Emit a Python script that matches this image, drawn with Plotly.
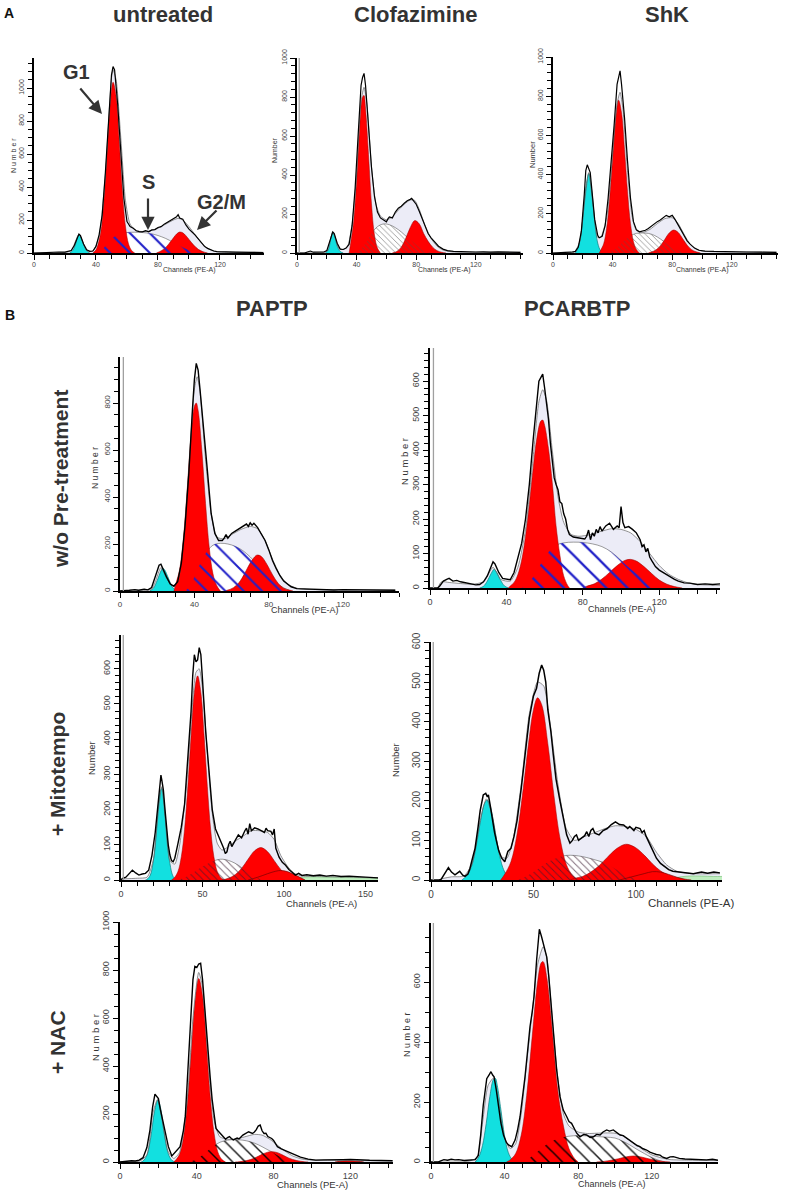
import plotly.graph_objects as go

W, H = 786, 1193
FONT = "Liberation Sans, Arial, sans-serif"

# ---------------- data: (channel, count) ----------------
# A: untreated
UNT_CYAN = [(23,0),(25,15),(27,60),(28,95),(29,112),(30,100),(31,75),(33,30),(35,5),(36,0)]
UNT_G1 = [(38,0),(40,19),(43,121),(45,301),(47,583),(49,882),(51,1035),(53,950),(55,676),(57,378),(59,163),(61,55),(63,15),(65,0)]
UNT_S = [(42,0),(45,30),(48,65),(52,100),(56,118),(60,124),(65,126),(70,124),(75,118),(80,106),(85,88),(90,64),(95,40),(100,18),(104,5),(107,0)]
UNT_G2 = [(79,0),(81,8),(84,25),(87,55),(90,92),(92,115),(94,127),(96,122),(98,105),(100,82),(103,48),(106,22),(109,8),(112,0)]
UNT_DATA = [(0,0),(4,2),(8,5),(12,4),(16,6),(20,5),(22,8),(24,15),(26,45),(28,100),(29,115),(30,105),(32,55),(34,20),(36,10),(38,12),(40,40),(42,110),(44,230),(46,480),(48,800),(50,1080),(51,1130),(52,1110),(54,900),(56,600),(58,330),(60,190),(62,160),(64,150),(66,135),(68,130),(70,128),(72,135),(74,128),(76,140),(78,142),(80,155),(82,160),(84,175),(86,185),(88,200),(90,210),(92,220),(93,232),(94,212),(96,205),(98,170),(100,145),(102,128),(104,108),(106,85),(108,62),(110,40),(112,28),(114,18),(116,12),(118,8),(122,6),(130,5),(140,4),(148,3)]
UNT_FIT = [(0,0),(20,3),(24,15),(28,100),(29,112),(30,100),(34,15),(38,12),(42,100),(46,470),(50,1060),(51,1110),(53,1050),(56,700),(59,320),(62,175),(66,135),(70,130),(75,135),(80,150),(85,175),(90,200),(93,210),(96,200),(100,160),(104,110),(108,62),(112,28),(116,12),(120,6),(148,4)]

# A: Clofazimine
CLO_CYAN = [(19,0),(21,15),(22,45),(23,85),(24,108),(25,95),(26,65),(27,35),(29,8),(31,0)]
CLO_G1 = [(35,0),(36,50),(38,159),(40,370),(42,637),(44,800),(45,808),(46,743),(48,505),(50,252),(52,92),(54,25),(56,0)]
CLO_S = [(38,0),(42,15),(46,50),(50,100),(54,135),(58,149),(62,145),(66,130),(70,108),(74,80),(78,55),(82,30),(86,12),(90,0)]
CLO_G2 = [(64,0),(67,8),(70,30),(73,75),(76,130),(79,166),(82,150),(85,100),(88,60),(91,30),(94,12),(97,4),(100,0)]
CLO_DATA = [(0,0),(5,0),(7,5),(9,10),(11,4),(14,3),(18,5),(20,12),(22,60),(24,108),(25,100),(27,50),(29,20),(31,18),(33,25),(35,45),(37,140),(39,330),(41,600),(43,860),(44,900),(45,921),(46,860),(48,650),(50,440),(52,290),(54,210),(56,180),(58,170),(60,160),(61,175),(62,185),(64,180),(66,210),(68,230),(70,240),(72,255),(74,268),(76,275),(77,280),(78,270),(80,250),(82,215),(84,175),(86,130),(88,100),(90,78),(92,60),(95,35),(98,20),(101,12),(105,8),(110,6),(115,7),(120,5),(125,6),(130,4),(135,6),(140,4),(145,5),(150,3)]
CLO_FIT = [(0,0),(18,3),(20,10),(22,55),(24,105),(26,70),(28,25),(31,18),(34,35),(37,150),(40,400),(43,780),(45,850),(47,760),(50,440),(53,250),(56,190),(60,170),(64,185),(68,220),(72,250),(76,272),(79,270),(82,225),(86,140),(90,75),(94,35),(98,15),(104,6),(150,4)]

# A: ShK
SHK_CYAN = [(15,0),(16,13),(18,59),(20,174),(22,331),(24,405),(26,318),(28,160),(30,51),(32,11),(34,0)]
SHK_G1 = [(31,0),(32,14),(34,47),(36,127),(38,276),(40,483),(42,685),(44,780),(46,715),(48,528),(50,315),(52,151),(54,58),(56,18),(58,0)]
SHK_S = [(36,0),(40,12),(44,35),(48,65),(52,88),(56,100),(60,102),(64,100),(68,90),(72,72),(76,50),(80,30),(84,14),(88,4),(91,0)]
SHK_G2 = [(64,0),(66,5),(69,15),(72,36),(75,69),(78,102),(81,117),(84,105),(87,73),(90,40),(93,17),(96,6),(99,0)]
SHK_DATA = [(0,0),(6,0),(8,3),(12,4),(15,8),(17,30),(19,110),(21,300),(22,420),(23,450),(24,430),(25,410),(26,330),(28,170),(30,90),(31,78),(33,85),(35,140),(37,280),(39,450),(41,650),(43,860),(44,895),(45,929),(46,860),(48,690),(50,470),(52,280),(54,160),(56,118),(58,108),(60,112),(62,116),(64,125),(66,138),(68,150),(70,160),(72,168),(74,178),(76,192),(78,185),(80,192),(82,170),(84,142),(86,112),(88,85),(90,62),(92,45),(95,25),(98,14),(102,10),(108,8),(115,6),(122,5),(130,5),(140,4),(150,3)]
SHK_FIT = [(0,0),(14,3),(18,60),(21,250),(24,410),(27,230),(30,80),(32,80),(36,180),(40,500),(43,760),(45,820),(47,730),(50,420),(53,190),(56,115),(60,105),(65,120),(70,150),(75,175),(80,180),(84,150),(88,95),(92,45),(96,20),(100,10),(110,6),(150,4)]

# B: PAPTP, w/o pre-treatment
PAP_CYAN = [(16,0),(18,12),(20,45),(22,85),(23,97),(24,90),(26,55),(28,18),(30,3),(31,0)]
PAP_G1 = [(29,0),(30,30),(32,89),(34,216),(36,417),(38,641),(40,786),(41,800),(42,769),(44,599),(46,373),(48,184),(50,73),(52,23),(54,0)]
PAP_S = [(35,0),(38,25),(41,80),(44,130),(47,170),(50,195),(54,203),(58,200),(62,190),(66,172),(70,145),(74,112),(78,80),(82,48),(86,22),(90,6),(92,0)]
PAP_G2 = [(56,0),(58,4),(61,14),(64,36),(67,74),(70,119),(73,150),(74,153),(76,147),(79,113),(82,69),(85,33),(88,12),(91,4),(93,0)]
PAP_DATA = [(0,0),(3,0),(5,3),(8,6),(10,3),(13,8),(15,5),(17,15),(19,60),(21,110),(22,114),(23,95),(25,60),(27,30),(29,20),(31,40),(33,120),(35,280),(37,500),(39,780),(40,900),(41,969),(42,940),(43,860),(45,700),(47,510),(49,330),(51,245),(53,215),(55,215),(56,225),(57,240),(58,225),(60,245),(62,255),(64,265),(66,275),(68,285),(69,275),(70,290),(71,280),(72,288),(74,270),(76,245),(78,215),(80,175),(82,130),(84,95),(86,65),(88,42),(90,28),(92,18),(95,10),(100,8),(105,5),(110,6),(115,4),(120,6),(125,5),(130,4),(135,5),(140,3),(148,3)]
PAP_FIT = [(0,0),(14,3),(17,8),(19,40),(22,100),(25,55),(28,22),(31,40),(34,200),(37,520),(40,860),(41.5,912),(43,850),(46,560),(49,330),(52,230),(56,222),(60,240),(65,262),(70,275),(74,265),(78,215),(82,135),(86,68),(90,30),(95,12),(100,7),(148,4)]

# B: PCARBTP, w/o pre-treatment
PCA_CYAN = [(26,0),(28,5),(30,20),(32,42),(33.5,54),(35,45),(37,22),(39,6),(41,0)]
PCA_G1 = [(41,0),(42,6),(44,16),(46,39),(48,81),(50,150),(52,243),(54,347),(56,437),(58,484),(59,487),(60,472),(62,405),(64,306),(66,180),(68,95),(70,35),(72,8),(73,0)]
PCA_S = [(48,0),(51,12),(54,32),(57,60),(60,88),(63,110),(66,124),(70,131),(75,133),(80,132),(85,128),(90,120),(95,104),(100,80),(105,55),(110,35),(115,18),(120,6),(124,0)]
PCA_G2 = [(80,0),(82,5),(86,12),(90,26),(94,45),(98,65),(102,80),(105,83),(108,78),(112,62),(116,42),(120,23),(124,11),(128,4),(132,0)]
PCA_DATA = [(0,0),(4,0),(5,5),(7,20),(9,26),(10,28),(12,20),(14,22),(16,18),(18,16),(20,14),(22,12),(24,9),(26,10),(28,18),(30,35),(32,60),(33,76),(34,70),(36,45),(38,28),(40,25),(42,24),(44,45),(46,90),(48,130),(50,200),(52,300),(54,430),(56,545),(57,600),(58,610),(59,620),(60,580),(61,540),(62,490),(63,420),(64,360),(65,320),(66,300),(67,285),(68,250),(69,245),(70,215),(71,200),(72,170),(73,155),(75,148),(77,146),(79,145),(81,142),(82,150),(83,168),(84,140),(85,160),(86,150),(87,170),(88,160),(89,178),(90,165),(92,180),(94,188),(96,170),(98,180),(99,175),(100,236),(101,190),(102,175),(104,178),(106,170),(108,160),(110,140),(111,120),(112,125),(113,105),(114,115),(115,90),(116,80),(118,62),(120,52),(122,45),(124,38),(126,32),(128,25),(130,20),(133,15),(136,14),(140,10),(144,12),(148,10),(152,12)]
PCA_FIT = [(4,0),(6,18),(10,16),(16,13),(22,11),(28,18),(33,60),(37,25),(42,20),(46,60),(50,170),(54,380),(57,540),(59,575),(61,545),(64,400),(67,265),(70,190),(74,155),(78,150),(84,155),(90,165),(95,172),(100,170),(105,160),(110,135),(115,100),(120,65),(125,40),(130,25),(135,15),(140,10),(152,8)]

# B: PAPTP + Mitotempo
MPA_CYAN = [(15,0),(16,2),(18,14),(20,60),(22,158),(24,250),(25,260),(26,238),(28,136),(30,47),(32,10),(34,0)]
MPA_G1 = [(31,0),(33,8),(35,25),(37,66),(39,144),(41,265),(43,410),(45,533),(47,580),(49,533),(51,410),(53,265),(55,144),(57,66),(59,25),(61,8),(63,0)]
MPA_S = [(34,0),(38,5),(42,14),(46,26),(50,38),(54,48),(58,56),(61,59),(64,58),(68,52),(72,42),(76,28),(80,15),(84,5),(87,0)]
MPA_G2 = [(62,0),(66,5),(70,15),(74,33),(78,59),(82,83),(86,92),(90,80),(94,55),(98,30),(102,13),(106,4),(110,0)]
MPA_AGG = [(78,0),(84,8),(90,18),(95,25),(98,27),(102,24),(106,16),(110,7),(113,0)]
MPA_DEBRIS = [(104,0),(108,4),(112,8),(120,9),(130,8),(140,7),(150,6),(158,5)]
MPA_DATA = [(0,0),(1,5),(3,8),(5,18),(7,28),(9,20),(11,14),(13,17),(15,19),(17,28),(19,70),(21,135),(23,225),(24,280),(24.5,298),(25,285),(26,256),(27,200),(28,147),(29,100),(30,71),(31,55),(32,52),(33,62),(35,105),(37,150),(39,215),(41,350),(43,480),(44,580),(45,640),(46,620),(47,625),(48,660),(49,640),(50,570),(51,480),(52,420),(54,310),(56,200),(58,145),(60,125),(62,105),(63,90),(64,75),(65,80),(66,100),(67,110),(68,95),(69,105),(70,112),(72,128),(74,120),(76,140),(77,147),(78,130),(79,160),(80,140),(82,148),(84,145),(86,140),(88,135),(89,147),(90,140),(92,138),(93,128),(94,145),(95,90),(97,65),(99,50),(101,42),(103,30),(105,22),(107,14),(109,19),(111,13),(114,15),(118,12),(122,14),(126,11),(130,13),(135,10),(140,11),(145,9),(150,8),(155,7),(158,6)]
MPA_FIT = [(0,3),(10,5),(16,8),(20,60),(23,200),(25,265),(27,180),(30,55),(33,45),(36,100),(40,260),(43,450),(46,590),(48,600),(50,545),(53,360),(56,190),(59,105),(62,85),(66,95),(70,110),(75,125),(80,140),(85,140),(90,135),(94,115),(98,70),(102,40),(106,20),(110,12),(120,10),(140,8),(158,6)]

# B: PCARBTP + Mitotempo
MPC_CYAN = [(15,0),(16,4),(18,14),(20,38),(22,84),(24,144),(26,192),(27.5,202),(29,185),(31,131),(33,73),(35,32),(37,11),(39,0)]
MPC_G1 = [(34,0),(36,15),(39,46),(42,116),(45,231),(48,362),(50,430),(52,460),(54,443),(57,345),(60,213),(63,104),(66,40),(69,12),(72,0)]
MPC_S = [(42,0),(46,8),(50,20),(54,35),(58,48),(62,57),(66,62),(70,62),(74,59),(78,54),(82,48),(86,40),(90,28),(94,16),(98,6),(102,0)]
MPC_G2 = [(68,0),(70,4),(74,9),(78,20),(82,36),(86,57),(90,77),(94,89),(96,90),(100,81),(104,63),(108,41),(112,23),(116,11),(120,4),(124,0)]
MPC_AGG = [(92,0),(98,8),(104,16),(108,21),(112,20),(116,14),(120,7),(124,2),(127,0)]
MPC_DEBRIS = [(112,0),(118,4),(122,8),(126,10),(132,10),(138,9),(142,9)]
MPC_DATA = [(0,0),(4,0),(5,2),(7,20),(8.5,31),(10,20),(11.7,13),(13,18),(14,22),(15.5,12),(16.6,9),(18,15),(19,29),(20,50),(21.5,80),(23,135),(24,175),(25.5,215),(26.7,219),(27.5,210),(28,215),(29,185),(30,150),(31,120),(32,97),(33,75),(34.5,55),(36,46),(37.5,72),(39,80),(40.5,110),(42,150),(44,230),(46,320),(48,410),(50,465),(51.5,484),(52.8,522),(54,543),(55,530),(56,500),(57,430),(58.5,375),(59.7,315),(61,255),(63,198),(65,140),(66.2,114),(67.8,93),(69,100),(70,110),(71,114),(72,100),(73.5,105),(75,112),(76,122),(77,110),(78,125),(79,130),(80,118),(82,114),(84,125),(86,130),(88,140),(90,147),(92,140),(94,139),(96,130),(97,135),(99,125),(100,133),(102,130),(103,120),(104,125),(105,110),(107,88),(109,65),(110,55),(112,42),(114,35),(116,26),(118,22),(120,21),(124,18),(128,16),(132,20),(135,17),(138,20),(141,18)]
MPC_FIT = [(5,3),(10,8),(16,10),(20,40),(24,150),(27,205),(30,160),(34,60),(37,55),(40,100),(44,240),(48,420),(52,500),(55,490),(58,400),(62,240),(66,130),(70,100),(75,110),(80,120),(85,130),(90,137),(95,135),(100,128),(105,110),(110,70),(115,38),(120,22),(128,16),(141,16)]

# B: PAPTP + NAC
NPA_CYAN = [(11,0),(12,4),(14,28),(16,101),(18,211),(19.7,258),(21,230),(23,122),(25,38),(27,7),(29,0)]
NPA_G1 = [(28,0),(29,8),(31,32),(33,99),(35,237),(37,446),(39,660),(41,765),(43,692),(45,492),(47,274),(49,120),(51,41),(53,11),(55,0)]
NPA_S = [(36,0),(40,12),(44,35),(48,62),(52,82),(56,91),(60,93),(64,91),(68,84),(72,72),(76,55),(80,38),(84,20),(88,7),(91,0)]
NPA_G2 = [(60,0),(62,1),(66,6),(70,16),(74,32),(77,41),(79,43),(82,39),(85,28),(88,16),(92,6),(96,1),(98,0)]
NPA_AGG = [(112,0),(116,4),(120,5),(124,3),(127,0)]
NPA_DATA = [(0,0),(3,3),(6,5),(8,4),(10,8),(12,18),(14,60),(15.6,133),(17,230),(18.2,283),(19,275),(20,264),(21,220),(22.5,161),(24,100),(25.2,64),(27,25),(28.5,38),(30,55),(31.3,64),(33,130),(34,189),(35,330),(36,480),(37,640),(38,760),(39,815),(40,810),(41,825),(42,828),(43,760),(44,650),(45,550),(46,450),(47,350),(48,260),(49,190),(50,140),(51,130),(53,112),(55,95),(56,102),(57,106),(58,98),(59,92),(61,100),(62,96),(64,112),(66,120),(67,126),(69,119),(70,125),(71,135),(72,150),(73,154),(74,130),(75,119),(76,120),(77,106),(79,98),(80,90),(81,78),(82,64),(84,55),(86,48),(88,38),(91,28),(94,20),(98,12),(102,8),(106,9),(111,8),(116,10),(120,11),(125,8),(130,7),(136,6),(142,5)]
NPA_FIT = [(0,2),(10,3),(14,30),(17,200),(19.5,260),(22,170),(25,45),(28,15),(31,40),(35,260),(38,600),(41,790),(43,730),(46,420),(49,175),(52,105),(56,95),(60,95),(65,105),(70,115),(74,112),(78,95),(82,70),(86,45),(90,25),(95,12),(100,8),(142,5)]

# B: PCARBTP + NAC
NPC_CYAN = [(24,0),(26,17),(28,55),(30,128),(32,219),(34,276),(35,279),(36,256),(38,174),(40,87),(42,32),(44,9),(46,0)]
NPC_G1 = [(41,0),(43,7),(46,28),(49,89),(52,222),(55,419),(58,604),(60,665),(61,668),(63,613),(66,432),(69,234),(72,120),(75,45),(78,12),(80,0)]
NPC_S = [(50,0),(54,15),(58,35),(62,55),(66,70),(70,80),(75,86),(80,88),(85,87),(90,85),(95,83),(100,80),(104,70),(108,57),(112,42),(116,28),(120,15),(124,5),(127,0)]
NPC_G2 = [(90,0),(94,2),(98,6),(102,11),(106,17),(110,20),(114,17),(118,11),(122,6),(126,2),(130,0)]
NPC_DATA = [(0,0),(4,0),(5,3),(7,8),(9,6),(11,9),(13,7),(15,8),(18,5),(21,7),(24,8),(25.7,22),(27,90),(28.4,189),(29.5,250),(30.3,278),(31.5,290),(32.6,301),(33.5,290),(34.3,284),(35.5,240),(36.6,189),(38,130),(39.4,90),(41,65),(42.1,57),(43.9,51),(45.7,73),(47,105),(48.4,151),(50,220),(51.1,284),(52.5,370),(53.8,451),(55,500),(56,551),(57.4,673),(58.9,776),(60.1,751),(61,729),(62,710),(62.9,684),(64,620),(64.7,573),(65.5,500),(66.5,429),(68.3,307),(70.1,218),(71.9,173),(73.8,151),(75,135),(76.4,129),(78,110),(79.2,96),(81,84),(83,92),(84.6,90),(86.5,82),(88.3,84),(90,92),(91.9,90),(93.5,100),(95.5,107),(97,103),(99.1,107),(101,98),(102.8,90),(104.5,88),(106.4,79),(108,72),(110,62),(112,55),(113.6,51),(115,45),(117.2,40),(119,33),(120.8,29),(122.5,25),(124.5,23),(126,16),(128.1,12),(130,17),(131.7,18),(135,12),(138,10),(140.8,9),(145,8),(149.8,7),(153,9),(156,6)]
NPC_FIT = [(0,0),(20,2),(25,15),(28,130),(31,255),(34,280),(37,190),(40,80),(43,45),(46,60),(49,160),(52,330),(55,500),(58,660),(61,718),(63,680),(66,470),(69,275),(72,160),(75,120),(80,100),(85,95),(90,96),(95,97),(100,96),(104,88),(108,72),(112,55),(116,38),(120,24),(125,14),(130,8),(140,6),(156,5)]

# thin gray spike next to the y axis (channel), None where absent
SPIKE_CH = [None, 1.5, None, 1.8, 1.8, 1.4, 1.1, None, 1.3]

# ---------------- assemble panels ----------------
panels = [
    dict(cyan=UNT_CYAN, g1=UNT_G1, s=UNT_S, g2=UNT_G2, data=UNT_DATA, fit=UNT_FIT),
    dict(cyan=CLO_CYAN, g1=CLO_G1, s=CLO_S, g2=CLO_G2, data=CLO_DATA, fit=CLO_FIT),
    dict(cyan=SHK_CYAN, g1=SHK_G1, s=SHK_S, g2=SHK_G2, data=SHK_DATA, fit=SHK_FIT),
    dict(cyan=PAP_CYAN, g1=PAP_G1, s=PAP_S, g2=PAP_G2, data=PAP_DATA, fit=PAP_FIT),
    dict(cyan=PCA_CYAN, g1=PCA_G1, s=PCA_S, g2=PCA_G2, data=PCA_DATA, fit=PCA_FIT),
    dict(cyan=MPA_CYAN, g1=MPA_G1, s=MPA_S, g2=MPA_G2, data=MPA_DATA, fit=MPA_FIT, agg=MPA_AGG, debris=MPA_DEBRIS),
    dict(cyan=MPC_CYAN, g1=MPC_G1, s=MPC_S, g2=MPC_G2, data=MPC_DATA, fit=MPC_FIT, agg=MPC_AGG, debris=MPC_DEBRIS),
    dict(cyan=NPA_CYAN, g1=NPA_G1, s=NPA_S, g2=NPA_G2, data=NPA_DATA, fit=NPA_FIT, agg=NPA_AGG),
    dict(cyan=NPC_CYAN, g1=NPC_G1, s=NPC_S, g2=NPC_G2, data=NPC_DATA, fit=NPC_FIT),
]

# geometry (pixel box of each axis frame, ranges, ticks, hatch style)
BLUE_HATCH = dict(fg="#2020c8", op=1.0, size=14, sol=0.15)
GRAY_HATCH = dict(fg="#505050", op=0.6, size=4, sol=0.22)
DARK_HATCH = dict(fg="#3a1a30", op=0.65, size=5, sol=0.2)
BLACK_HATCH = dict(fg="#000000", op=0.9, size=9, sol=0.16)
geom = [
    dict(x0=34, x1=264, xmax=148.4, y0=253, y1=58, ymax=1182, xd=40, yd=200, ym=50, tf=7, hatch=BLUE_HATCH, lw=1.2),
    dict(x0=297, x1=523, xmax=151.7, y0=253, y1=58, ymax=1000, xd=40, yd=200, ym=40, tf=7, hatch=GRAY_HATCH, lw=1.2),
    dict(x0=553, x1=778, xmax=151.0, y0=253, y1=57, ymax=1000, xd=40, yd=200, ym=40, tf=7, hatch=GRAY_HATCH, lw=1.2),
    dict(x0=120, x1=399, xmax=150.0, y0=591, y1=357, ymax=996, xd=40, yd=200, ym=50, tf=8, hatch=dict(BLUE_HATCH, size=13), lw=1.4),
    dict(x0=430, x1=720, xmax=151.8, y0=588, y1=348, ymax=696, xd=40, yd=100, ym=20, tf=9, hatch=dict(BLUE_HATCH, size=15), lw=1.4),
    dict(x0=121, x1=378, xmax=157.7, y0=880, y1=635, ymax=696, xd=50, yd=100, ym=20, tf=9, hatch=DARK_HATCH, lw=1.4),
    dict(x0=431, x1=722, xmax=142.0, y0=880, y1=642, ymax=601, xd=50, yd=100, ym=20, tf=10, hatch=DARK_HATCH, lw=1.5),
    dict(x0=120, x1=393, xmax=142.2, y0=1162, y1=922, ymax=1000, xd=40, yd=200, ym=50, tf=9, hatch=BLACK_HATCH, lw=1.4),
    dict(x0=431, x1=718, xmax=156.0, y0=1162, y1=923, ymax=797, xd=40, yd=200, ym=50, tf=9, hatch=dict(BLACK_HATCH, size=9.5), lw=1.4),
]

LAV = "#ececf7"
CYAN = "#12e0e0"
RED = "#ff0000"

fig = go.Figure()
layout_axes = {}


def sfx(i):
    return "" if i == 1 else str(i)


for i, (P, G) in enumerate(zip(panels, geom), start=1):
    xa, ya = "x" + sfx(i), "y" + sfx(i)

    def add(pts, **kw):
        fig.add_trace(go.Scatter(
            x=[p[0] for p in pts], y=[p[1] for p in pts], xaxis=xa, yaxis=ya,
            mode="lines", showlegend=False, hoverinfo="skip", **kw))

    add(P["fit"], fill="tozeroy", fillcolor=LAV, line=dict(width=0, shape="spline", smoothing=0.6))
    if "debris" in P:
        add(P["debris"], fill="tozeroy", fillcolor="#bfeebf",
            line=dict(color="#7cc47c", width=0.7, shape="spline"))
    add(P["s"], fill="tozeroy", fillcolor="white",
        line=dict(color="rgba(90,90,90,0.85)", width=0.7, shape="spline"))
    add(P["cyan"], fill="tozeroy", fillcolor=CYAN,
        line=dict(color="#0b7c7c", width=0.7, shape="spline"))
    add(P["g1"], fill="tozeroy", fillcolor=RED,
        line=dict(color="#a00000", width=0.5, shape="spline"))
    add(P["g2"], fill="tozeroy", fillcolor=RED,
        line=dict(color="#a00000", width=0.6, shape="spline"))
    if "agg" in P:
        add(P["agg"], fill="tozeroy", fillcolor=RED,
            line=dict(color="#7a0000", width=0.7, shape="spline"))
    h = G["hatch"]
    add(P["s"], fill="tozeroy", fillcolor="rgba(0,0,0,0)",
        fillpattern=dict(shape="\\", fgcolor=h["fg"], fgopacity=h["op"],
                         bgcolor="rgba(0,0,0,0)", size=h["size"], solidity=h["sol"]),
        line=dict(width=0, shape="spline"))
    add(P["fit"], line=dict(color="rgba(105,105,105,0.9)", width=0.8, shape="spline", smoothing=0.6))
    add(P["data"], line=dict(color="black", width=G["lw"]))

    if SPIKE_CH[i - 1] is not None:
        fig.add_shape(type="line", xref=xa, yref=ya + " domain",
                      x0=SPIKE_CH[i - 1], x1=SPIKE_CH[i - 1], y0=0, y1=1,
                      line=dict(color="#a0a0a0", width=1.3))

    tickfont = dict(family=FONT, size=G["tf"], color="#444")
    layout_axes["xaxis" + sfx(i)] = dict(
        domain=[G["x0"] / W, G["x1"] / W], range=[0, G["xmax"]], anchor=ya,
        automargin=False,
        showgrid=False, zeroline=False, showline=True, linecolor="black", linewidth=2,
        ticks="outside", ticklen=5, tickwidth=1.3, tickcolor="black",
        tick0=0, dtick=G["xd"], tickfont=tickfont, ticklabelstandoff=-1,
        minor=dict(tick0=0, dtick=10, ticks="outside", ticklen=4, tickwidth=1,
                   tickcolor="black", showgrid=False),
        fixedrange=True)
    layout_axes["yaxis" + sfx(i)] = dict(
        domain=[1 - G["y0"] / H, 1 - G["y1"] / H], range=[0, G["ymax"]], anchor=xa,
        automargin=False,
        showgrid=False, zeroline=False, showline=True, linecolor="black", linewidth=2.2,
        ticks="outside", ticklen=5, tickwidth=1.3, tickcolor="black",
        tick0=0, dtick=G["yd"], tickangle=-90, tickfont=tickfont,
        minor=dict(tick0=0, dtick=G["ym"], ticks="outside", ticklen=4, tickwidth=1,
                   tickcolor="black", showgrid=False),
        fixedrange=True)

fig.update_layout(**layout_axes)


def txt(s, x, y, size, bold=False, color="#333", angle=0):
    fig.add_annotation(text=s, x=x / W, y=1 - y / H, xref="paper", yref="paper",
                       showarrow=False, xanchor="center", yanchor="middle", textangle=angle,
                       font=dict(family=FONT, size=size, color=color, weight=700 if bold else 400))


def arrow(hx, hy, tx, ty):
    fig.add_annotation(x=hx / W, y=1 - hy / H, xref="paper", yref="paper",
                       ax=tx - hx, ay=ty - hy, axref="pixel", ayref="pixel",
                       text="", showarrow=True, arrowhead=2, arrowsize=1.2,
                       arrowwidth=2.2, arrowcolor="#333")


# titles
for s, x, y in [("untreated", 163, 15), ("Clofazimine", 415, 15), ("ShK", 667, 15),
                ("PAPTP", 272, 308), ("PCARBTP", 577, 308)]:
    txt(s, x, y, 22, bold=True)
txt("A", 9, 13, 14, bold=True, color="#111")
txt("B", 10, 315, 14, bold=True, color="#111")
for s, x, y in [("w/o Pre-treatment", 60, 479), ("+ Mitotempo", 57, 774), ("+ NAC", 57, 1042)]:
    txt(s, x, y, 21, bold=True, angle=-90)

# phase labels in untreated panel
txt("G1", 76, 72, 20, bold=True)
txt("S", 148, 182, 20, bold=True)
txt("G2/M", 221, 202, 20, bold=True)
arrow(102, 114, 79, 87)
arrow(148, 230, 148, 197)
arrow(197, 230, 218, 209)

# axis titles
for x, y, size in [(189, 270, 7), (444, 270, 7), (702, 270, 7), (305, 610, 9),
                   (622, 609, 9), (321, 903, 9.5), (691, 903, 11.5), (312, 1184, 9.5), (612, 1184, 9)]:
    txt("Channels (PE-A)", x, y, size, color="#333")
for s, x, y, size in [("N u m b e r", 13, 155, 7), ("Number", 275, 150, 7), ("Number", 532, 155, 7.5),
                      ("N u m b e r", 95, 468, 8.5), ("N u m b e r", 405, 462, 9.5),
                      ("Number", 92, 758, 9.5), ("Number", 395, 760, 9.5),
                      ("N u m b e r", 95, 1038, 9.5), ("N u m b e r", 407, 1035, 9)]:
    txt(s, x, y, size, color="#333", angle=-90)

fig.update_layout(width=W, height=H, autosize=False,
                  margin=dict(l=0, r=0, t=0, b=0, pad=0, autoexpand=False),
                  showlegend=False,
                  paper_bgcolor="white", plot_bgcolor="white",
                  font=dict(family=FONT))

POST = ("document.body.style.margin='0';document.body.style.padding='0';"
        "document.body.style.overflow='hidden';"
        "var g=document.getElementById('{plot_id}');"
        "g.style.position='absolute';g.style.left='0px';g.style.top='0px';")
fig.write_html("out.html", post_script=POST, config={"displayModeBar": False})
